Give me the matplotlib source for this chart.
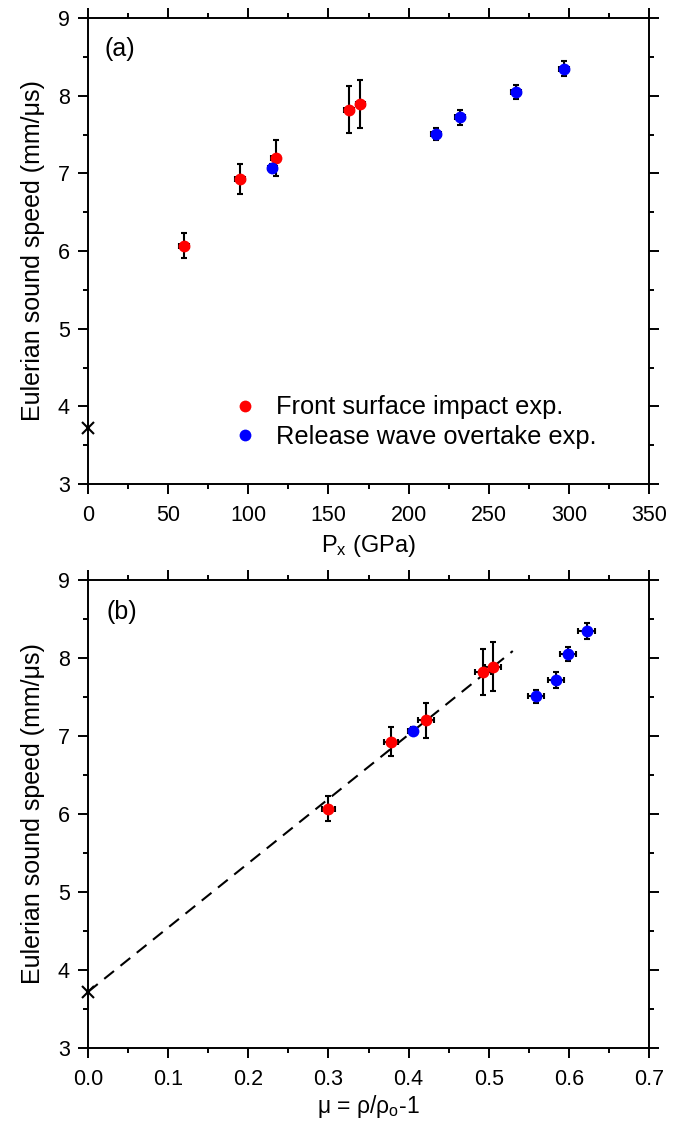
import numpy as np
import matplotlib
matplotlib.use('Agg')
import matplotlib.pyplot as plt
from matplotlib.ticker import MultipleLocator, FormatStrFormatter

plt.rcParams['font.family'] = ['Liberation Sans', 'DejaVu Sans']
plt.rcParams['mathtext.fontset'] = 'custom'
plt.rcParams['mathtext.rm'] = 'Liberation Sans'
plt.rcParams['mathtext.it'] = 'Liberation Sans'

# front surface impact experiments (red)
front_p = [60, 95, 117, 163, 170]
front_p_err = [3, 3, 3, 3, 3]
front_mu = [0.300, 0.378, 0.422, 0.493, 0.505]
front_mu_err = [0.008, 0.009, 0.01, 0.01, 0.01]
front_c = [6.07, 6.93, 7.20, 7.82, 7.89]
front_c_err = [0.16, 0.19, 0.23, 0.30, 0.31]

# release wave overtake experiments (blue)
rel_p = [115, 217, 232, 267, 297]
rel_p_err = [3, 3, 3, 3, 3]
rel_mu = [0.405, 0.559, 0.584, 0.599, 0.622]
rel_mu_err = [0.006, 0.01, 0.01, 0.01, 0.011]
rel_c = [7.07, 7.51, 7.72, 8.05, 8.35]
rel_c_err = [0.05, 0.08, 0.10, 0.09, 0.10]

# ambient point and linear fit
amb_x = [0]
amb_c = [3.72]
fit_mu = [0.0, 0.53]
fit_c = [3.72, 8.09]

fs = 15.5

def style_axes(ax):
    ax.set_ylim(3, 9)
    ax.yaxis.set_major_locator(MultipleLocator(1))
    ax.yaxis.set_minor_locator(MultipleLocator(0.5))
    ax.tick_params(which='both', direction='out', top=True, right=True,
                   width=1.4, labelsize=fs, labeltop=False, labelright=False)
    ax.tick_params(which='major', length=7, pad=6)
    ax.tick_params(axis='x', which='major', pad=8)
    ax.tick_params(which='minor', length=3.6)
    for s in ax.spines.values():
        s.set_linewidth(1.4)
    ax.set_ylabel('Eulerian sound speed (mm/\u03bcs)', fontsize=18, labelpad=9)

fig = plt.figure(figsize=(6.89, 11.34), dpi=100)
ax1 = fig.add_axes([0.1277, 0.5732, 0.8143, 0.4109])
ax2 = fig.add_axes([0.1277, 0.0758, 0.8143, 0.4127])

eb = dict(fmt='o', ms=8.5, mec='none', ecolor='black', elinewidth=1.5,
          capsize=2.5, capthick=1.5, zorder=3)

ax1.errorbar(front_p, front_c, yerr=front_c_err, xerr=front_p_err, color='#ff0000', **eb)
ax1.errorbar(rel_p, rel_c, yerr=rel_c_err, xerr=rel_p_err, color='#0000ff', **eb)
ax1.plot(amb_x, amb_c, 'kx', ms=9, mew=1.5, clip_on=False, zorder=4)
ax1.set_xlim(0, 350)
ax1.xaxis.set_major_locator(MultipleLocator(50))
ax1.xaxis.set_minor_locator(MultipleLocator(25))
style_axes(ax1)
ax1.set_xlabel('P$_\\mathregular{x}$ (GPa)', fontsize=17, labelpad=5)
ax1.text(0.03, 0.933, '(a)', transform=ax1.transAxes, fontsize=18, va='center')
h1, = ax1.plot([], [], 'o', color='#ff0000', ms=8.5, mec='none')
h2, = ax1.plot([], [], 'o', color='#0000ff', ms=8.5, mec='none')
ax1.legend([h1, h2], ['Front surface impact exp.', 'Release wave overtake exp.'],
           loc='upper left', bbox_to_anchor=(0.258, 0.19), frameon=False,
           borderaxespad=0, borderpad=0, fontsize=18.3, handletextpad=0.75,
           labelspacing=0.22, handlelength=0.95)

ax2.plot(fit_mu, fit_c, 'k--', lw=1.5, dashes=(6, 4), zorder=2)
ax2.errorbar(front_mu, front_c, yerr=front_c_err, xerr=front_mu_err, color='#ff0000', **eb)
ax2.errorbar(rel_mu, rel_c, yerr=rel_c_err, xerr=rel_mu_err, color='#0000ff', **eb)
ax2.plot(amb_x, amb_c, 'kx', ms=9, mew=1.5, clip_on=False, zorder=4)
ax2.set_xlim(0, 0.7)
ax2.xaxis.set_major_locator(MultipleLocator(0.1))
ax2.xaxis.set_minor_locator(MultipleLocator(0.05))
ax2.xaxis.set_major_formatter(FormatStrFormatter('%.1f'))
style_axes(ax2)
ax2.set_xlabel('\u03bc = \u03c1/\u03c1$_\\mathregular{o}$-1', fontsize=16.5, labelpad=2)
ax2.text(0.033, 0.931, '(b)', transform=ax2.transAxes, fontsize=18, va='center')

fig.savefig('out.png', dpi=100)
